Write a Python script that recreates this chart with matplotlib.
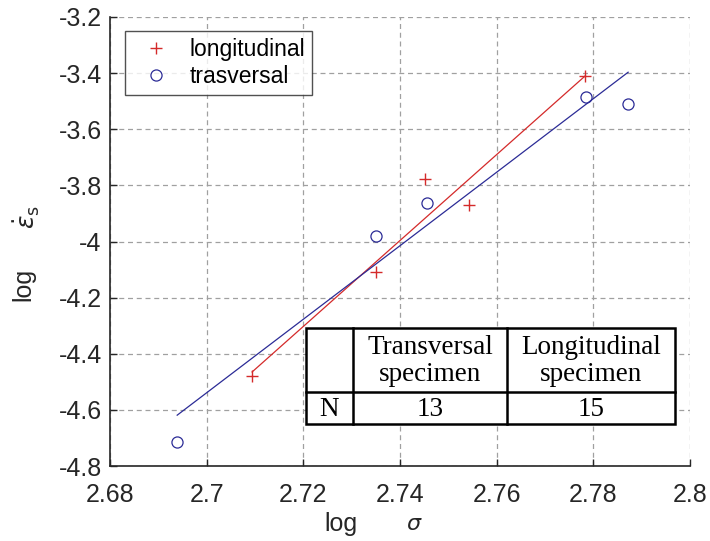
import numpy as np
import matplotlib
matplotlib.use("Agg")
import matplotlib.pyplot as plt
from matplotlib.patches import Rectangle
from matplotlib.lines import Line2D

# Data
long_x = [2.7094, 2.7350, 2.7451, 2.7543, 2.7783]
long_y = [-4.479, -4.108, -3.776, -3.871, -3.410]
trans_x = [2.6939, 2.7350, 2.7456, 2.7784, 2.7872]
trans_y = [-4.713, -3.979, -3.864, -3.484, -3.510]

xticks = [2.68, 2.70, 2.72, 2.74, 2.76, 2.78, 2.80]
xticklabels = ["2.68", "2.7", "2.72", "2.74", "2.76", "2.78", "2.8"]
yticks = [-4.8, -4.6, -4.4, -4.2, -4.0, -3.8, -3.6, -3.4, -3.2]
yticklabels = ["-4.8", "-4.6", "-4.4", "-4.2", "-4", "-3.8", "-3.6", "-3.4", "-3.2"]

table_cols = ["", "Transversal\nspecimen", "Longitudinal\nspecimen"]
table_row = ["N", "13", "15"]

plt.rcParams['font.family'] = ['Liberation Sans', 'DejaVu Sans']
plt.rcParams['mathtext.fontset'] = 'dejavusans'

W, H = 710, 541
fig = plt.figure(figsize=(W / 100, H / 100), dpi=100)
ax = fig.add_axes([110 / W, 1 - 466 / H, 580 / W, 449 / H])

red = '#d42a2a'
blue = '#2b2b96'

ax.plot(long_x, long_y, '+', color=red, ms=8, mew=1.0, label='longitudinal', zorder=3)
ax.plot(trans_x, trans_y, 'o', mfc='none', mec=blue, ms=8, mew=0.9, label='trasversal', zorder=3)

# least-squares fit lines over the data range
pl = np.polyfit(long_x, long_y, 1)
xl = np.array([min(long_x), max(long_x)])
ax.plot(xl, np.polyval(pl, xl), color=red, lw=0.9, zorder=2)
pt = np.polyfit(trans_x, trans_y, 1)
xt = np.array([min(trans_x), max(trans_x)])
ax.plot(xt, np.polyval(pt, xt), color=blue, lw=0.9, zorder=2)

ax.set_xlim(2.68, 2.80)
ax.set_ylim(-4.8, -3.2)
ax.set_xticks(xticks)
ax.set_xticklabels(xticklabels)
ax.set_yticks(yticks)
ax.set_yticklabels(yticklabels)
ax.tick_params(direction='in', length=5, width=1, colors='#262626', labelsize=18)
ax.tick_params(axis='x', pad=12)
ax.tick_params(axis='y', pad=6)
for s in ['top', 'right']:
    ax.spines[s].set_visible(False)
for s in ['left', 'bottom']:
    ax.spines[s].set_color('#262626')
    ax.spines[s].set_linewidth(1.2)
ax.grid(True, linestyle=(0, (4, 3)), color='#a0a0a0', lw=0.9)
ax.set_axisbelow(True)

leg = ax.legend(loc='upper left', bbox_to_anchor=(15 / 580, 1 - 14 / 449),
                fontsize=16.5, frameon=True, fancybox=False, edgecolor='#262626',
                borderpad=0.3, handlelength=2.1, handletextpad=0.4, labelspacing=0.2,
                borderaxespad=0)
leg.get_frame().set_linewidth(1.0)

# table
tx0, tx1 = 306, 675
ty0, ty1 = 328, 424
cx = [306, 353, 507, 675]
ry = [328, 392, 424]
def fx(px):
    return px / W
def fy(py):
    return 1 - py / H
fig.add_artist(Rectangle((fx(tx0), fy(ty1)), fx(tx1) - fx(tx0), fy(ty0) - fy(ty1),
                         facecolor='white', edgecolor='black', lw=1.8, zorder=5,
                         transform=fig.transFigure))
for c in cx[1:-1]:
    fig.add_artist(Line2D([fx(c), fx(c)], [fy(ty0), fy(ty1)], color='black', lw=1.8, zorder=6))
fig.add_artist(Line2D([fx(tx0), fx(tx1)], [fy(ry[1]), fy(ry[1])], color='black', lw=1.8, zorder=6))
tfont = dict(family=['Liberation Serif', 'DejaVu Serif'], fontsize=19.5, zorder=7)
for i in range(3):
    xc = (cx[i] + cx[i + 1]) / 2
    fig.text(fx(xc), fy((ry[0] + ry[1]) / 2 + 1), table_cols[i], ha='center', va='center',
             linespacing=1.1, **tfont)
    fig.text(fx(xc), fy((ry[1] + ry[2]) / 2 + 1), table_row[i], ha='center', va='center', **tfont)

# axis labels
fig.text(fx(324), fy(524), 'log', ha='left', va='center', fontsize=18, color='#262626')
fig.text(fx(406), fy(524), r'$\sigma$', ha='left', va='center', fontsize=16, color='#262626')
fig.text(fx(23), fy(284), 'log', ha='center', va='center', rotation=90, fontsize=18, color='#262626')
fig.text(fx(27), fy(217), r'$\dot{\epsilon}_{\mathrm{s}}$', ha='center', va='center', rotation=90,
         fontsize=18, color='#262626')

fig.savefig('out.png', dpi=100)
